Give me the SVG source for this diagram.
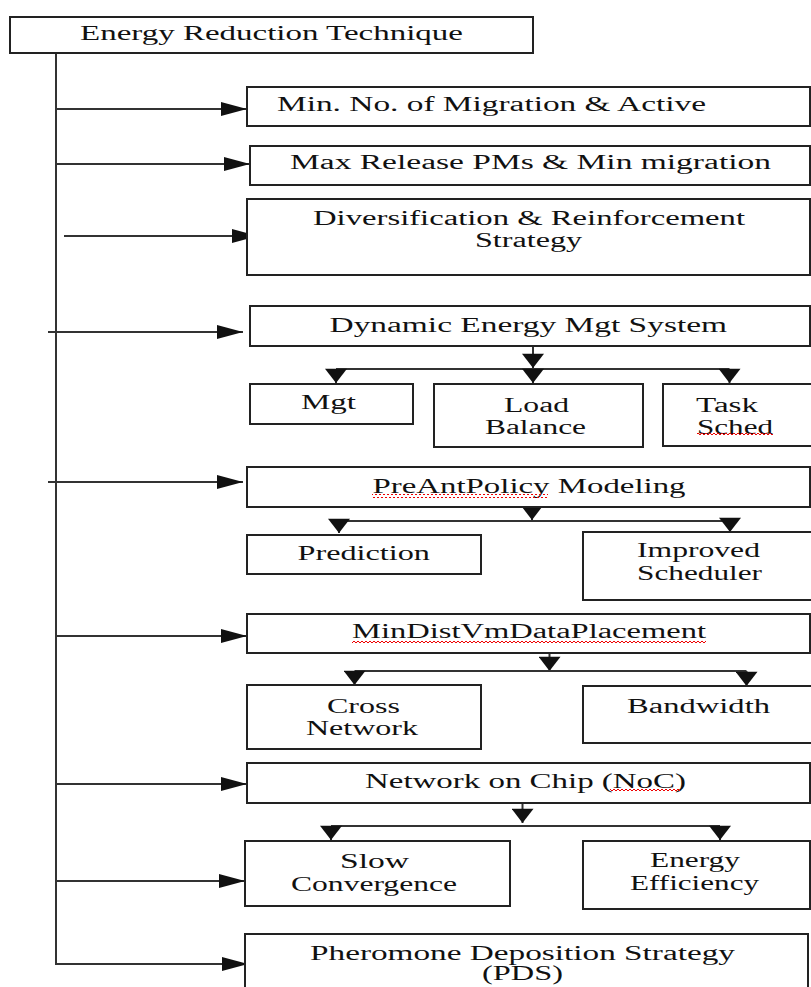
<svg xmlns="http://www.w3.org/2000/svg" width="811" height="987" viewBox="0 0 811 987">
<style>
.box{fill:#fff;stroke:#222;stroke-width:2}
.t{font-family:"Liberation Serif","Times New Roman",serif;font-size:20px;fill:#111}
.ln{fill:none;stroke:#333;stroke-width:2}
.sq{fill:url(#sq)}
</style>
<defs>
<marker id="ah" markerUnits="userSpaceOnUse" markerWidth="26" markerHeight="16" refX="24" refY="6.5" orient="auto" viewBox="0 0 24 13">
<path d="M0,0 L24,6.5 L0,13 Z" fill="#111"/>
</marker>
<marker id="av" markerUnits="userSpaceOnUse" markerWidth="16" markerHeight="22" refX="13" refY="10" orient="auto" viewBox="0 0 13 20">
<path d="M0,0 L13,10 L0,20 Z" fill="#111"/>
</marker>
<pattern id="sq" width="4" height="4" patternUnits="userSpaceOnUse">
<path d="M0,3 L2,1 L4,3" fill="none" stroke="#e00" stroke-width="1"/>
</pattern>
</defs>

<g id="connectors">
<path class="ln" d="M56,51 V964 H248" marker-end="url(#ah)"/>
<path class="ln" d="M56,109 H247" marker-end="url(#ah)"/>
<path class="ln" d="M56,164 H250" marker-end="url(#ah)"/>
<path class="ln" d="M64,236 H258" marker-end="url(#ah)"/>
<path class="ln" d="M48,332 H243" marker-end="url(#ah)"/>
<path class="ln" d="M48,482 H243" marker-end="url(#ah)"/>
<path class="ln" d="M56,636 H247" marker-end="url(#ah)"/>
<path class="ln" d="M56,784 H247" marker-end="url(#ah)"/>
<path class="ln" d="M56,881 H245" marker-end="url(#ah)"/>

<path class="ln" d="M533,346 V368" marker-end="url(#av)"/>
<path class="ln" d="M336,369 H729.5"/>
<path class="ln" d="M336,369 V383" marker-end="url(#av)"/>
<path class="ln" d="M533,369 V383" marker-end="url(#av)"/>
<path class="ln" d="M729.5,369 V383" marker-end="url(#av)"/>

<path class="ln" d="M532,497 V520" marker-end="url(#av)"/>
<path class="ln" d="M339,521 H730"/>
<path class="ln" d="M339,521 V533" marker-end="url(#av)"/>
<path class="ln" d="M730,521 V532" marker-end="url(#av)"/>

<path class="ln" d="M549.5,650 V671" marker-end="url(#av)"/>
<path class="ln" d="M354.5,671 H746.5"/>
<path class="ln" d="M354.5,671 V685" marker-end="url(#av)"/>
<path class="ln" d="M746.5,671 V686" marker-end="url(#av)"/>

<path class="ln" d="M522.5,803 V823" marker-end="url(#av)"/>
<path class="ln" d="M331,826 H720"/>
<path class="ln" d="M331,826 V840" marker-end="url(#av)"/>
<path class="ln" d="M720,826 V840" marker-end="url(#av)"/>
</g>

<g id="n-root">
<rect class="box" x="10" y="17" width="523" height="36"/>
<text class="t" x="80" y="40" textLength="383" lengthAdjust="spacingAndGlyphs">Energy Reduction Technique</text>
</g>
<g id="n-minmig">
<rect class="box" x="247" y="87" width="563" height="39"/>
<text class="t" x="277" y="111" textLength="429" lengthAdjust="spacingAndGlyphs">Min. No. of Migration &amp; Active</text>
</g>
<g id="n-maxrel">
<rect class="box" x="250" y="146" width="560" height="39"/>
<text class="t" x="290" y="169" textLength="481" lengthAdjust="spacingAndGlyphs">Max Release PMs &amp; Min migration</text>
</g>
<g id="n-divers">
<rect class="box" x="247" y="199" width="563" height="76"/>
<text class="t" x="313" y="225" textLength="432" lengthAdjust="spacingAndGlyphs">Diversification &amp; Reinforcement</text>
<text class="t" x="475" y="247" textLength="107" lengthAdjust="spacingAndGlyphs">Strategy</text>
</g>
<g id="n-dems">
<rect class="box" x="250" y="306" width="560" height="40"/>
<text class="t" x="329.5" y="332" textLength="397.5" lengthAdjust="spacingAndGlyphs">Dynamic Energy Mgt System</text>
</g>
<g id="n-mgt">
<rect class="box" x="250" y="384" width="163" height="40"/>
<text class="t" x="301" y="409" textLength="55" lengthAdjust="spacingAndGlyphs">Mgt</text>
</g>
<g id="n-load">
<rect class="box" x="434" y="384" width="209" height="63"/>
<text class="t" x="504" y="411.5" textLength="65" lengthAdjust="spacingAndGlyphs">Load</text>
<text class="t" x="485" y="434" textLength="101" lengthAdjust="spacingAndGlyphs">Balance</text>
</g>
<g id="n-task">
<rect class="box" x="663" y="384" width="152" height="62"/>
<text class="t" x="696" y="411.5" textLength="62" lengthAdjust="spacingAndGlyphs">Task</text>
<text class="t" x="697" y="433.5" textLength="76" lengthAdjust="spacingAndGlyphs">Sched</text>
<rect class="sq" x="697" y="432" width="76" height="4"/>
</g>
<g id="n-preant">
<rect class="box" x="247" y="467" width="563" height="40"/>
<text class="t" x="372.5" y="493" textLength="313" lengthAdjust="spacingAndGlyphs">PreAntPolicy Modeling</text>
<rect class="sq" x="372" y="494" width="176" height="4"/>
</g>
<g id="n-pred">
<rect class="box" x="247" y="535" width="234" height="39"/>
<text class="t" x="297.5" y="560" textLength="132.5" lengthAdjust="spacingAndGlyphs">Prediction</text>
</g>
<g id="n-impsched">
<rect class="box" x="583" y="532" width="232" height="68"/>
<text class="t" x="637" y="557" textLength="123" lengthAdjust="spacingAndGlyphs">Improved</text>
<text class="t" x="637" y="580" textLength="125" lengthAdjust="spacingAndGlyphs">Scheduler</text>
</g>
<g id="n-mindist">
<rect class="box" x="247" y="614" width="563" height="39"/>
<text class="t" x="352" y="638" textLength="354" lengthAdjust="spacingAndGlyphs">MinDistVmDataPlacement</text>
<rect class="sq" x="352" y="639" width="354" height="4"/>
</g>
<g id="n-cross">
<rect class="box" x="247" y="685" width="234" height="64"/>
<text class="t" x="327" y="712.5" textLength="73" lengthAdjust="spacingAndGlyphs">Cross</text>
<text class="t" x="306" y="735" textLength="112" lengthAdjust="spacingAndGlyphs">Network</text>
</g>
<g id="n-bw">
<rect class="box" x="583" y="686" width="232" height="57"/>
<text class="t" x="627" y="712.5" textLength="143" lengthAdjust="spacingAndGlyphs">Bandwidth</text>
</g>
<g id="n-noc">
<rect class="box" x="247" y="763" width="563" height="40"/>
<text class="t" x="365" y="788" textLength="321" lengthAdjust="spacingAndGlyphs">Network on Chip (NoC)</text>
<rect class="sq" x="610" y="788" width="70" height="4"/>
</g>
<g id="n-slow">
<rect class="box" x="245" y="841" width="265" height="65"/>
<text class="t" x="340" y="867.5" textLength="69" lengthAdjust="spacingAndGlyphs">Slow</text>
<text class="t" x="291" y="890.5" textLength="166" lengthAdjust="spacingAndGlyphs">Convergence</text>
</g>
<g id="n-eff">
<rect class="box" x="583" y="841" width="227" height="68"/>
<text class="t" x="650" y="866.5" textLength="90" lengthAdjust="spacingAndGlyphs">Energy</text>
<text class="t" x="630" y="889.5" textLength="129" lengthAdjust="spacingAndGlyphs">Efficiency</text>
</g>
<g id="n-pds">
<rect class="box" x="245" y="934" width="563" height="60"/>
<text class="t" x="310" y="960" textLength="425" lengthAdjust="spacingAndGlyphs">Pheromone Deposition Strategy</text>
<text class="t" x="482" y="980" textLength="81" lengthAdjust="spacingAndGlyphs">(PDS)</text>
</g>
</svg>
